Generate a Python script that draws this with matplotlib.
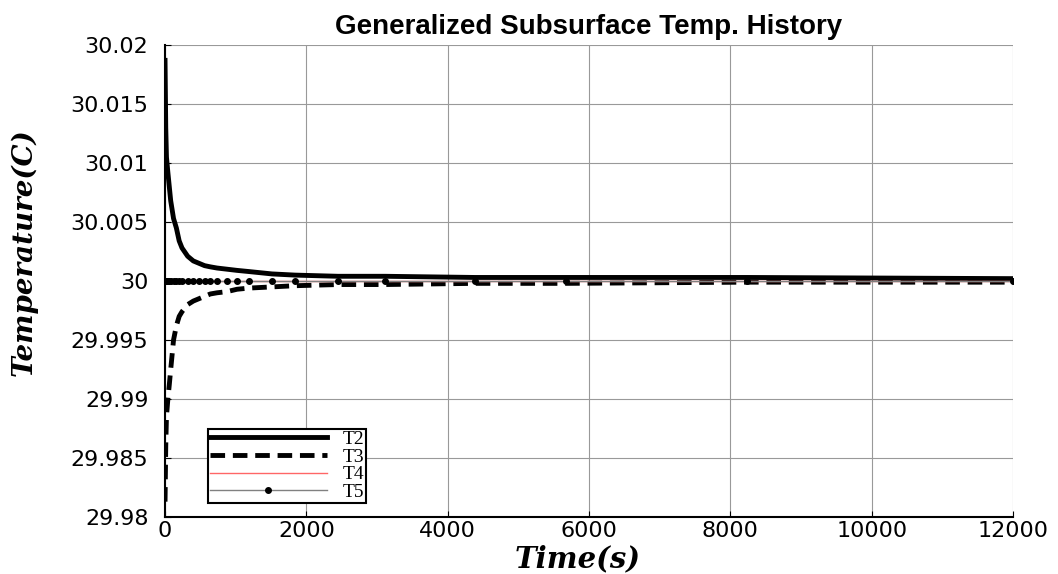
import matplotlib
matplotlib.use("Agg")
import matplotlib.pyplot as plt
from matplotlib.ticker import FuncFormatter

# Время (с) и температуры датчиков
t = [0, 10, 20, 40, 60, 80, 120, 160, 200, 240, 320, 400, 480, 560, 640, 735,
     877, 1018, 1188, 1513, 1838, 2447, 3112, 4385, 5672, 8232, 12000]

T2 = [30.0187, 30.0130, 30.0105, 30.0092, 30.0080, 30.0068, 30.0053, 30.0045,
      30.0034, 30.0028, 30.0021, 30.0017, 30.0015, 30.0013, 30.0012, 30.0011,
      30.0010, 30.0009, 30.0008, 30.0006, 30.0005, 30.0004, 30.0004, 30.0003,
      30.0003, 30.0003, 30.0002]

T3 = [29.9813, 29.9860, 29.9885, 29.9900, 29.9912, 29.9925, 29.9950, 29.9962,
      29.9970, 29.9974, 29.9980, 29.9983, 29.9985, 29.9987, 29.9989, 29.9990,
      29.9991, 29.9993, 29.9994, 29.9995, 29.9996, 29.9997, 29.9997, 29.9998,
      29.9998, 29.9999, 29.9999]

T4 = [30.0] * len(t)
T5 = [30.0] * len(t)

xticks = [0, 2000, 4000, 6000, 8000, 10000, 12000]
yticks = [29.98, 29.985, 29.99, 29.995, 30.0, 30.005, 30.01, 30.015, 30.02]

fig = plt.figure(figsize=(10.58, 5.74), dpi=100)
ax = fig.add_axes([0.156, 0.0993, 0.8015, 0.8223])

ax.plot(t, T2, color="black", lw=3.5, label="T2")
ax.plot(t, T3, color="black", lw=3.5, ls=(0, (3, 1.6)), label="T3")
ax.plot(t, T4, color="#ff6666", lw=1.0, label="T4")
ax.plot(t, T5, color="gray", lw=1.0, marker="o", markersize=4,
        markerfacecolor="black", markeredgecolor="black", label="T5")

ax.set_xlim(0, 12000)
ax.set_ylim(29.98, 30.02)
ax.set_xticks(xticks)
ax.set_yticks(yticks)
ax.yaxis.set_major_formatter(FuncFormatter(lambda v, p: "%g" % round(v, 4)))
ax.grid(True, color="#999999", lw=0.8)
ax.tick_params(direction="in", labelsize=16, length=4)
ax.tick_params(axis="y", pad=12)
ax.tick_params(axis="x", pad=3)
for s in ["top", "right"]:
    ax.spines[s].set_visible(False)
for s in ["left", "bottom"]:
    ax.spines[s].set_linewidth(1.5)

ax.set_title("Generalized Subsurface Temp. History", fontsize=20,
             fontweight="bold", family="Liberation Sans", pad=8)
ax.set_xlabel("Time(s)", fontsize=21, fontweight="bold", style="italic",
              family="DejaVu Serif")
ax.set_ylabel("Temperature(C)", fontsize=20, fontweight="bold", style="italic",
              family="DejaVu Serif")
ax.xaxis.set_label_coords(0.486, -0.058)
ax.yaxis.set_label_coords(-0.150, 0.561)

leg = ax.legend(loc="lower left", bbox_to_anchor=(0.0507, 0.0297),
                borderaxespad=0, handlelength=6.0, labelspacing=0.0,
                borderpad=0.1, handletextpad=0.8, fancybox=False, framealpha=1,
                edgecolor="black", prop={"family": "Liberation Serif", "size": 14})
leg.get_frame().set_linewidth(1.5)

plt.savefig("out.png", dpi=100)
plt.close()
